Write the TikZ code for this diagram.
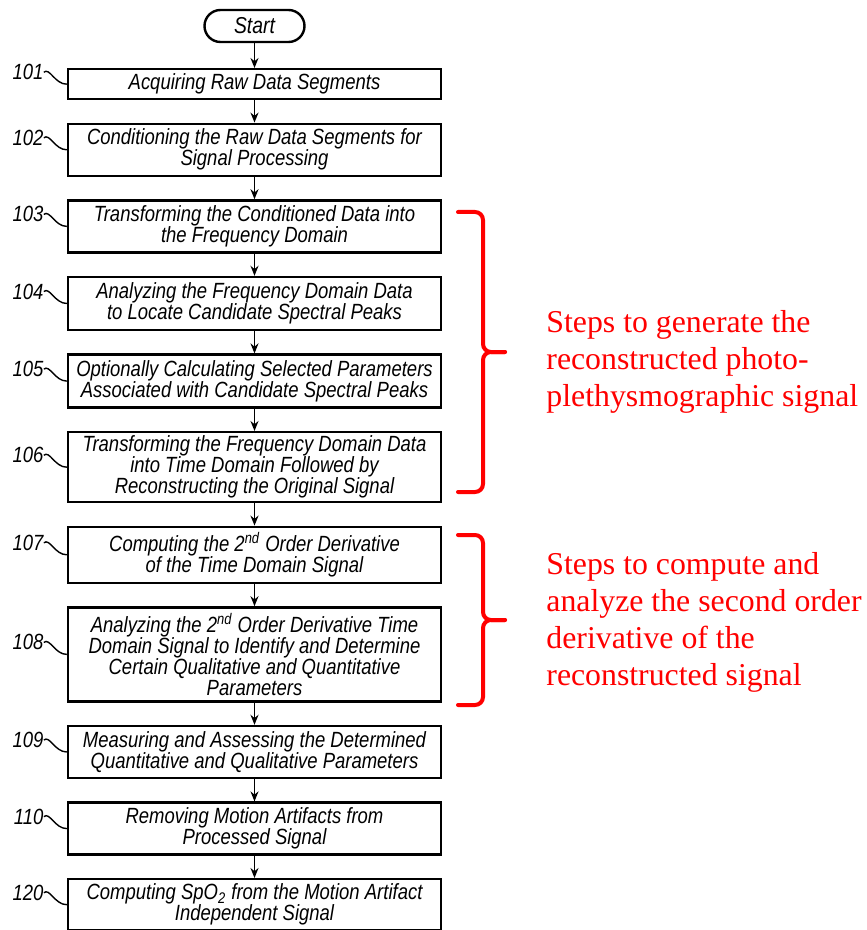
\documentclass[tikz,border=0pt]{standalone}
\usepackage{fontspec}
\newfontfamily\flowfont[FakeStretch=0.84]{Liberation Sans}
\newfontfamily\notefont{Liberation Serif}
\usepackage{tikz}
\usetikzlibrary{arrows.meta, positioning, calc}
\tikzstyle{stepbox} = [draw, line width=1.2pt, minimum width=186.5pt, minimum height=26pt, inner xsep=2pt, inner ysep=1pt, align=center, font=\flowfont\itshape\fontsize{11}{10.5}\selectfont]
\tikzstyle{startbox} = [draw, line width=1.2pt, rounded corners=8pt, minimum width=50pt, minimum height=16pt, font=\flowfont\itshape\fontsize{11.5}{11}\selectfont]
\tikzstyle{arrow} = [line width=0.8pt, -{Stealth[length=5pt,width=4pt]}]
\tikzstyle{refnum} = [anchor=east, inner sep=0pt, font=\flowfont\itshape\fontsize{11}{10.5}\selectfont]
\tikzstyle{squiggle} = [line width=0.7pt]
\tikzstyle{bracket} = [red, line width=2pt, rounded corners=4pt, line cap=round]
\tikzstyle{note} = [red, anchor=west, align=left, inner sep=0pt, font=\notefont\fontsize{15.9}{18.5}\selectfont]

\begin{document}
\begin{tikzpicture}[x=0.5pt, y=-0.5pt]
        \useasboundingbox (0,0) rectangle (866,930);

        % Start
        \node[startbox] (start) at (254.5,26) {Start};

        % Flow steps
        \node[stepbox, minimum height=15pt, below=12.4pt of start] (acquire) {Acquiring Raw Data Segments};
        \node[stepbox, below=11.1pt of acquire] (condition) {Conditioning the Raw Data Segments for\\Signal Processing};
        \node[stepbox, below=11.1pt of condition] (tofreq) {Transforming the Conditioned Data into\\the Frequency Domain};
        \node[stepbox, minimum height=26.5pt, below=11.1pt of tofreq] (peaks) {Analyzing the Frequency Domain Data\\to Locate Candidate Spectral Peaks};
        \node[stepbox, minimum height=26.5pt, below=11.1pt of peaks] (params) {Optionally Calculating Selected Parameters\\Associated with Candidate Spectral Peaks};
        \node[stepbox, minimum height=35pt, below=11.1pt of params] (totime) {Transforming the Frequency Domain Data\\into Time Domain Followed by\\Reconstructing the Original Signal};
        \node[stepbox, minimum height=28pt, below=11.1pt of totime] (deriv) {Computing the 2\textsuperscript{nd} Order Derivative\\of the Time Domain Signal};
        \node[stepbox, minimum height=47pt, below=11.1pt of deriv] (analyze) {Analyzing the 2\textsuperscript{nd} Order Derivative Time\\Domain Signal to Identify and Determine\\Certain Qualitative and Quantitative\\Parameters};
        \node[stepbox, below=11.1pt of analyze] (assess) {Measuring and Assessing the Determined\\Quantitative and Qualitative Parameters};
        \node[stepbox, below=11.1pt of assess] (motion) {Removing Motion Artifacts from\\Processed Signal};
        \node[stepbox, minimum height=25.5pt, below=11.1pt of motion] (spo2) {Computing SpO\textsubscript{2} from the Motion Artifact\\Independent Signal};

        % Reference numbers
        \foreach \blk/\num in {acquire/101, condition/102, tofreq/103, peaks/104, params/105, totime/106, deriv/107, analyze/108, assess/109, motion/110, spo2/120} {
            \node[refnum] (n\num) at ($(\blk.west)+(-23,-12)$) {\num};
            \draw[squiggle] (n\num.east) .. controls +(3pt,2.5pt) and +(-6pt,0pt) .. (\blk.west);
        }

        % Arrows
        \foreach \src/\dst in {start/acquire, acquire/condition, condition/tofreq, tofreq/peaks, peaks/params, params/totime, totime/deriv, deriv/analyze, analyze/assess, assess/motion, motion/spo2}
            \draw[arrow] (\src) -- (\dst);

        % Brackets and notes
        \draw[bracket] (458,212) -- (483,212) -- (483,352) -- (505,352);
        \draw[bracket] (505,352) -- (483,352) -- (483,492) -- (458,492);
        \node[note] (gennote) at (546,362) {Steps to generate the\\reconstructed photo-\\plethysmographic signal};

        \draw[bracket] (458,535) -- (483,535) -- (483,620) -- (505,620);
        \draw[bracket] (505,620) -- (483,620) -- (483,705) -- (458,705);
        \node[note] (derivnote) at (546,622) {Steps to compute and\\analyze the second order\\derivative of the\\reconstructed signal};
    \end{tikzpicture}
\end{document}
